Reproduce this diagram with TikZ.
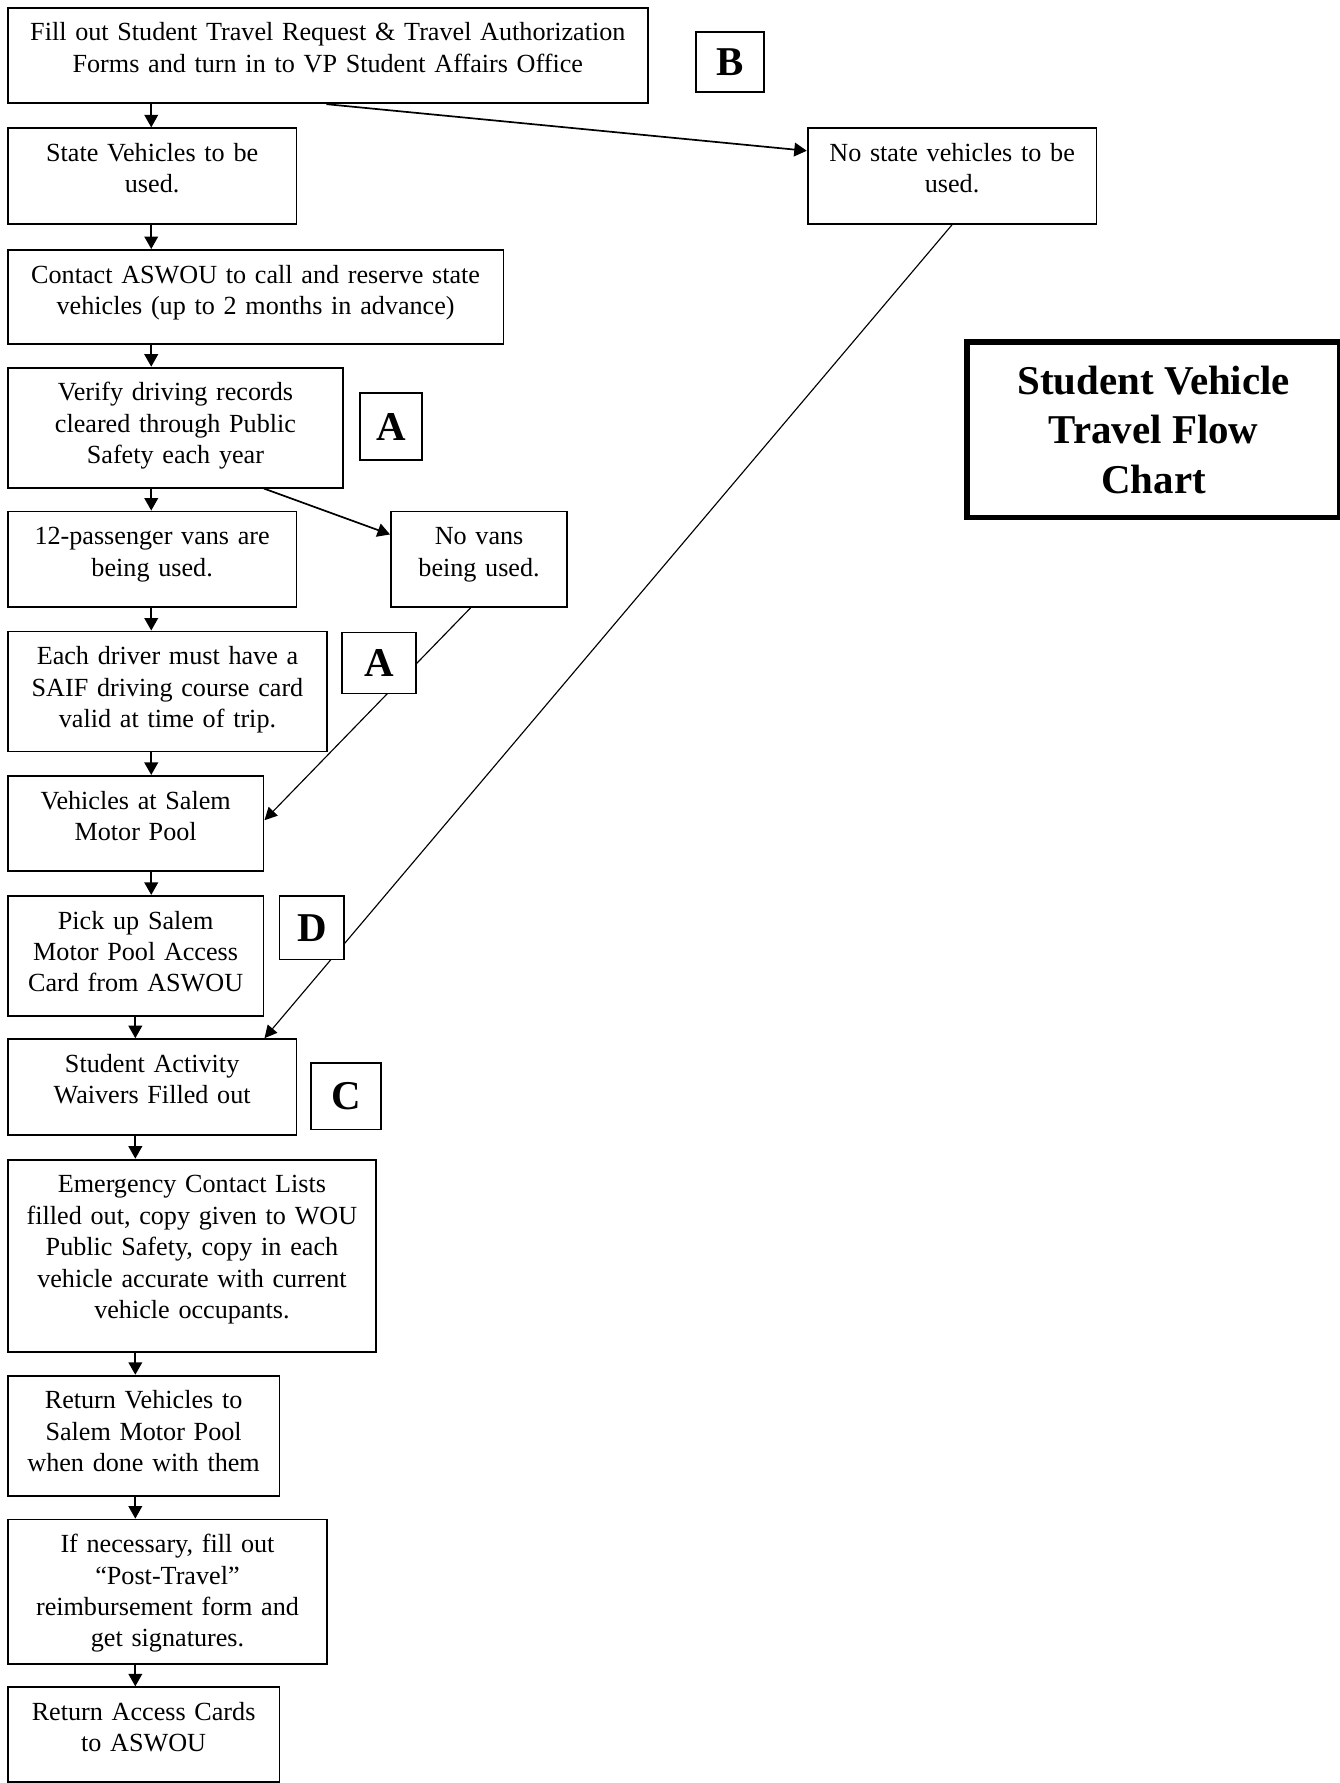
\documentclass[tikz,border=0pt]{standalone}
\usepackage{fontspec}
\setmainfont{Liberation Serif}
\usetikzlibrary{arrows.meta}

\begin{document}
\begin{tikzpicture}[x=0.5pt,y=-0.5pt,
    box/.style={draw, line width=0.8pt, anchor=north west, align=center,
      inner xsep=3pt, inner ysep=0pt, text height=14.6pt,
      font=\fontsize{11.5}{13.8}\selectfont},
    tag/.style={draw, line width=0.8pt, fill=white, anchor=north west, inner sep=0pt,
      font=\fontsize{18}{21}\selectfont\bfseries},
    flow/.style={line width=0.75pt, -{Triangle[length=5.5pt,width=6pt]}},
    link/.style={line width=0.5pt, -{Triangle[length=5.5pt,width=5.5pt]}}]
    \useasboundingbox (0,0) rectangle (1178,1568);
    % define spines
    \coordinate (spineA) at (133,0);
    \coordinate (spineB) at (119,0);
    % main steps
    \node[box, text width=275.5pt, text depth=27.4pt] (b1) at (6,6)
      {Fill out Student Travel Request \& Travel Authorization\\ Forms and turn in to VP Student Affairs Office};
    \node[box, text width=121pt, text depth=27.4pt] (bstate) at (6,112)
      {State Vehicles to be\\ used.};
    \node[box, text width=121pt, text depth=27.4pt] (bnostate) at (709.5,112)
      {No state vehicles to be\\ used.};
    \node[box, text width=212pt, text depth=26.65pt] (bcontact) at (6,219)
      {Contact ASWOU to call and reserve state\\ vehicles (up to 2 months in advance)};
    \node[box, text width=141.5pt, text depth=38.15pt] (bverify) at (6,322.5)
      {Verify driving records\\ cleared through Public\\ Safety each year};
    \node[box, text width=121pt, text depth=27.4pt] (bvans) at (6,449)
      {12-passenger vans are\\ being used.};
    \node[box, text width=71.5pt, text depth=27.4pt] (bnovans) at (343,449)
      {No vans\\ being used.};
    \node[box, text width=134.5pt, text depth=38.15pt] (bcard) at (6,554.5)
      {Each driver must have a\\ SAIF driving course card\\ valid at time of trip.};
    \node[box, text width=106.5pt, text depth=27.4pt] (bpool) at (6,681.5)
      {Vehicles at Salem\\ Motor Pool};
    \node[box, text width=106.5pt, text depth=38.15pt] (bpickup) at (6,787)
      {Pick up Salem\\ Motor Pool Access\\ Card from ASWOU};
    \node[box, text width=121pt, text depth=27.65pt] (bwaiver) at (6,913)
      {Student Activity\\ Waivers Filled out};
    \node[box, text width=156pt, text depth=69.9pt] (bemerg) at (6,1019)
      {Emergency Contact Lists\\ filled out, copy given to WOU\\ Public Safety, copy in each\\ vehicle accurate with current\\ vehicle occupants.};
    \node[box, text width=113.5pt, text depth=38.15pt] (breturn) at (6,1209)
      {Return Vehicles to\\ Salem Motor Pool\\ when done with them};
    \node[box, text width=134.5pt, text depth=48.9pt] (bpost) at (6,1335.5)
      {If necessary, fill out\\ “Post-Travel”\\ reimbursement form and\\ get signatures.};
    \node[box, text width=113.5pt, text depth=27.15pt] (baccess) at (6,1483)
      {Return Access Cards\\ to ASWOU};
    % title
    \node[draw, line width=2.6pt, anchor=north west, align=center, minimum width=164pt,
      minimum height=77pt, font=\fontsize{18}{21.7}\selectfont\bfseries] (title) at (848,298.5)
      {Student Vehicle\\ Travel Flow\\ Chart};
    % straight down
    \foreach \a/\b in {b1/bstate, bstate/bcontact, bcontact/bverify, bverify/bvans,
      bvans/bcard, bcard/bpool, bpool/bpickup}
      \draw[flow] (\a.south -| spineA) -- (\b.north -| spineA);
    \foreach \a/\b in {bpickup/bwaiver, bwaiver/bemerg, bemerg/breturn,
      breturn/bpost, bpost/baccess}
      \draw[flow] (\a.south -| spineB) -- (\b.north -| spineB);
    % side branches
    \draw[flow] ([xshift=140.5pt]b1.south west) -- ([yshift=-10.3pt]bnostate.north west);
    \draw[flow] ([xshift=113pt]bverify.south west) -- ([yshift=-10.5pt]bnovans.north west);
    \draw[link] ([xshift=35.4pt]bnovans.south west) -- ([yshift=1.5pt]bpool.east);
    \draw[link] (bnostate.south) -- (bwaiver.north -| bpickup.east);
    % letters
    \node[tag, minimum width=30pt, minimum height=26.5pt] (tagB) at (611,27) {B};
    \node[tag, minimum width=27pt, minimum height=29.5pt] (tagA) at (316,345) {A};
    \node[tag, minimum width=32.5pt, minimum height=26.75pt] (tagAA) at (300,555.5) {A};
    \node[tag, minimum width=28.5pt, minimum height=28pt] (tagD) at (245,787) {D};
    \node[tag, minimum width=30.5pt, minimum height=29.25pt] (tagC) at (273,934) {C};
\end{tikzpicture}
\end{document}
